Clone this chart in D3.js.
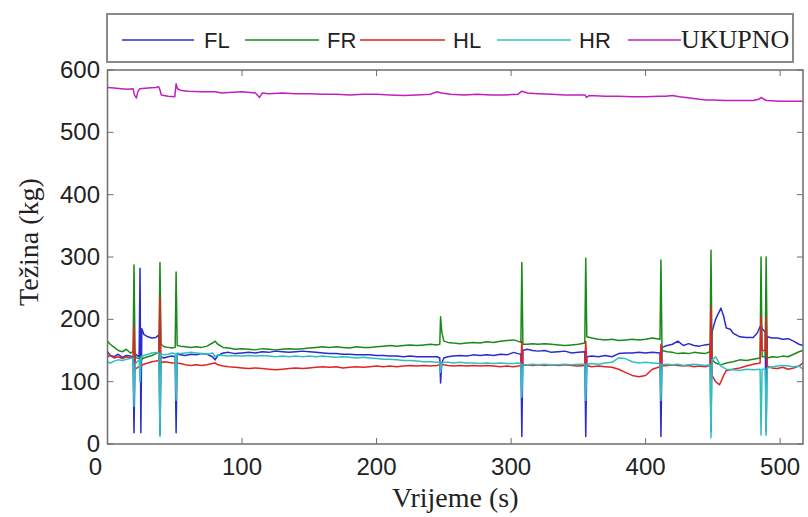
<!DOCTYPE html>
<html>
<head>
<meta charset="utf-8">
<script src="https://cdn.jsdelivr.net/npm/d3@7"></script>
<style>
  body { margin: 0; background: #fff; }
  text { fill: #222; }
</style>
</head>
<body>
<svg id="chart" width="808" height="517"></svg>
<script>
// data: [time (s), weight (kg)]
var seriesNames = ["FL", "FR", "HL", "HR", "UKUPNO"];
var xTicks = [0, 100, 200, 300, 400, 500];
var yTicks = [0, 100, 200, 300, 400, 500, 600];

var fl = [[0,148],[2,142],[5,140],[8,144],[11,139],[14,142],[17,141],[19,140],[19.7,18],[20.5,145],[22,142],[23.5,140],
  [24.2,282],[24.8,18],[25.5,185],[27,176],[30,172],[33,170],[36,171],[38.2,175],[39,15],[39.8,140],[42,138],[45,140],
  [48,141],[50.3,140],[51,18],[51.8,145],[54,143],[58,142],[62,144],[66,143],[70,145],[74,144],[78,140],[80,135],[82,142],
  [86,146],[90,147],[95,145],[100,146],[105,147],[110,146],[115,148],[120,147],[125,149],[130,148],[135,147],[140,148],
  [145,149],[150,148],[155,147],[160,146],[165,145],[170,145],[175,144],[180,144],[185,143],[190,143],[195,143],[200,142],
  [205,142],[210,141],[215,141],[220,140],[225,141],[230,140],[235,140],[240,140],[245,140],[247,138],[247.6,98],[248.5,130],
  [250,138],[253,140],[257,141],[262,142],[267,141],[272,143],[277,142],[282,143],[287,142],[292,144],[297,143],[302,147],
  [305,145],[307.3,144],[308,12],[308.8,150],[312,152],[316,150],[320,149],[325,150],[330,147],[335,148],[340,149],[345,146],
  [350,147],[354.8,148],[355.5,12],[356.3,140],[360,141],[365,140],[370,142],[375,140],[380,145],[385,146],[390,146],
  [395,147],[400,146],[405,147],[410.7,146],[411.4,12],[412.2,155],[416,158],[420,160],[424,165],[428,158],[432,161],
  [436,158],[440,157],[444,159],[447.9,160],[448.6,20],[449.4,180],[452,200],[456,218],[458,205],[460,186],[463,184],
  [465,178],[470,172],[475,171],[480,171],[483,178],[485.1,188],[485.8,190],[486.6,185],[488.9,180],[489.6,20],[490.4,172],
  [494,170],[498,170],[502,168],[506,169],[510,165],[514,160],[517,158]];

var fr = [[0,165],[2,160],[5,155],[8,150],[11,148],[14,152],[17,146],[19,148],[19.7,287],[20.5,140],[22,138],[23.5,137],
  [24.2,138],[25,136],[27,138],[30,140],[33,142],[36,145],[38.2,147],[39,291],[39.8,160],[42,156],[45,155],[48,154],
  [50.3,155],[51,276],[51.8,158],[54,157],[58,156],[62,155],[66,156],[70,155],[74,157],[78,162],[80,165],[82,160],[86,155],
  [90,154],[95,152],[100,153],[105,152],[110,151],[115,153],[120,152],[125,151],[130,152],[135,153],[140,152],[145,153],
  [150,154],[155,155],[160,156],[165,155],[170,156],[175,155],[180,154],[185,156],[190,155],[195,155],[200,156],[205,157],
  [210,158],[215,157],[220,158],[225,159],[230,158],[235,159],[240,160],[245,159],[247,160],[247.6,204],[248.5,180],
  [250,165],[253,163],[257,162],[262,161],[267,162],[272,163],[277,162],[282,164],[287,163],[292,165],[297,166],[302,167],
  [305,165],[307.3,163],[308,291],[308.8,160],[312,160],[316,161],[320,160],[325,161],[330,160],[335,159],[340,158],
  [345,159],[350,160],[354.8,162],[355.5,298],[356.3,172],[360,170],[365,168],[370,167],[375,168],[380,166],[385,167],
  [390,168],[395,167],[400,168],[405,170],[410.7,168],[411.4,295],[412.2,150],[416,148],[420,147],[424,145],[428,146],
  [432,145],[436,147],[440,146],[444,145],[447.9,148],[448.6,311],[449.4,135],[452,130],[456,127],[460,130],[465,132],
  [470,135],[475,134],[480,136],[485.1,138],[485.8,300],[486.6,140],[488.9,140],[489.6,300],[490.4,138],[494,140],
  [498,139],[502,141],[506,140],[510,144],[514,148],[517,150]];

var hl = [[0,140],[2,142],[5,138],[8,140],[11,137],[14,140],[17,138],[19,139],[19.7,190],[20.5,120],[22,122],[23.5,124],
  [24.2,126],[25,125],[27,128],[30,130],[33,132],[36,133],[38.2,134],[39,236],[39.8,130],[42,132],[45,131],[48,130],
  [50.3,130],[51,128],[51.8,130],[54,129],[58,127],[62,126],[66,127],[70,126],[74,127],[78,129],[80,130],[82,127],[86,125],
  [90,124],[95,123],[100,122],[105,121],[110,122],[115,121],[120,120],[125,119],[130,120],[135,121],[140,122],[145,121],
  [150,122],[155,123],[160,124],[165,123],[170,124],[175,122],[180,123],[185,124],[190,123],[195,124],[200,125],[205,124],
  [210,125],[215,124],[220,125],[225,126],[230,125],[235,126],[240,125],[245,126],[247,127],[247.6,122],[248.5,128],
  [250,127],[253,126],[257,125],[262,126],[267,125],[272,126],[277,125],[282,126],[287,125],[292,124],[297,125],[302,124],
  [305,125],[307.3,126],[308,165],[308.8,126],[312,127],[316,126],[320,127],[325,126],[330,127],[335,126],[340,127],
  [345,126],[350,125],[354.8,126],[355.5,165],[356.3,126],[360,124],[365,125],[370,124],[375,123],[380,120],[385,115],
  [390,110],[395,108],[400,110],[405,120],[410.7,124],[411.4,160],[412.2,125],[416,126],[420,127],[424,126],[428,125],
  [432,126],[436,124],[440,125],[444,124],[447.9,126],[448.6,220],[449.4,110],[452,100],[455,95],[458,110],[460,118],
  [465,120],[470,122],[475,125],[480,128],[485.1,130],[485.8,204],[486.6,150],[488.9,150],[489.6,204],[490.4,125],
  [494,122],[498,121],[502,123],[506,120],[510,122],[514,125],[517,130]];

var hr = [[0,132],[2,130],[5,133],[8,135],[11,134],[14,136],[17,137],[19,138],[19.7,60],[20.5,128],[22,132],[23.5,135],
  [24.2,100],[25,140],[27,142],[30,144],[33,146],[36,147],[38.2,146],[39,12],[39.8,145],[42,143],[45,144],[48,146],
  [50.3,145],[51,70],[51.8,146],[54,145],[58,146],[62,147],[66,146],[70,145],[74,144],[78,146],[80,140],[82,143],[86,142],
  [90,141],[95,142],[100,141],[105,142],[110,141],[115,142],[120,141],[125,140],[130,141],[135,140],[140,141],[145,140],
  [150,141],[155,140],[160,141],[165,140],[170,139],[175,140],[180,139],[185,138],[190,139],[195,138],[200,137],[205,136],
  [210,136],[215,135],[220,134],[225,134],[230,133],[235,132],[240,132],[245,131],[247,131],[247.6,115],[248.5,130],
  [250,131],[253,131],[257,130],[262,131],[267,130],[272,130],[277,129],[282,130],[287,129],[292,130],[297,129],[302,129],
  [305,130],[307.3,129],[308,75],[308.8,127],[312,127],[316,128],[320,127],[325,128],[330,127],[335,127],[340,128],
  [345,127],[350,128],[354.8,128],[355.5,70],[356.3,128],[360,129],[365,128],[370,130],[375,131],[380,138],[385,137],
  [390,132],[395,130],[400,131],[405,130],[410.7,129],[411.4,70],[412.2,127],[416,128],[420,127],[424,128],[428,126],
  [432,127],[436,128],[440,127],[444,126],[447.9,127],[448.6,10],[449.4,135],[452,140],[456,125],[460,120],[465,119],
  [470,118],[475,120],[480,119],[485.1,120],[485.8,14],[486.6,120],[488.9,120],[489.6,14],[490.4,122],[494,124],
  [498,125],[502,126],[506,125],[510,124],[514,125],[517,120]];

var ukupno = [[0,572],[5,571],[10,570],[15,569],[19,570],[20,560],[21.5,555],[22.5,565],[24,570],[30,571],[36,572],
  [38,573],[39,568],[40,560],[45,558],[50,557],[51,578],[52,570],[55,567],[60,566],[70,565],[80,565],[85,563],[90,564],
  [100,565],[110,563],[113,556],[115,563],[120,562],[130,563],[140,562],[150,562],[160,561],[170,561],[180,560],[190,561],
  [200,561],[210,560],[220,559],[230,560],[240,561],[245,565],[248,563],[255,561],[265,560],[275,561],[285,560],[295,560],
  [305,561],[308,566],[312,563],[320,562],[330,561],[340,560],[350,560],[355,560],[356,556],[358,559],[370,558],[380,558],
  [390,557],[400,557],[410,558],[415,558],[420,559],[425,557],[430,556],[440,553],[445,552],[450,552],[460,551],[470,551],
  [480,551],[484,553],[486,556],[488,553],[490,551],[500,550],[510,550],[517,550]];

var seriesData = [fl, fr, hl, hr, ukupno];
var seriesColors = ["#2b2bd0", "#1a8a1a", "#e02424", "#30c0c0", "#c020c0"];

var svg = d3.select("#chart");
var plotLeft = 107.5, plotRight = 803, plotTop = 70, plotBottom = 444;

var x = d3.scaleLinear().domain([0, 517]).range([plotLeft, plotRight]);
var y = d3.scaleLinear().domain([0, 600]).range([plotBottom, plotTop]);

// lines
var line = d3.line()
  .x(function(d){ return x(d[0]); })
  .y(function(d){ return y(d[1]); });

svg.append("g")
  .selectAll("path")
  .data(seriesData)
  .enter()
  .append("path")
  .attr("d", line)
  .attr("fill", "none")
  .attr("stroke", function(d, i){ return seriesColors[i]; })
  .attr("stroke-width", 1.5)
  .attr("stroke-linejoin", "round");

// matlab style box with inward ticks
var frame = svg.append("g").attr("stroke", "#6e6e6e").attr("fill", "none");
frame.append("rect")
  .attr("x", plotLeft).attr("y", plotTop)
  .attr("width", plotRight - plotLeft).attr("height", plotBottom - plotTop)
  .attr("stroke-width", 1.5);

var tk = 6;
xTicks.forEach(function(t){
  frame.append("line").attr("x1", x(t)).attr("x2", x(t)).attr("y1", plotBottom).attr("y2", plotBottom - tk);
  frame.append("line").attr("x1", x(t)).attr("x2", x(t)).attr("y1", plotTop).attr("y2", plotTop + tk);
});
yTicks.forEach(function(t){
  frame.append("line").attr("x1", plotLeft).attr("x2", plotLeft + tk).attr("y1", y(t)).attr("y2", y(t));
  frame.append("line").attr("x1", plotRight).attr("x2", plotRight - tk).attr("y1", y(t)).attr("y2", y(t));
});

// tick labels
svg.append("g")
  .selectAll("text")
  .data(xTicks)
  .enter()
  .append("text")
  .attr("x", function(d){ return x(d) + (d === 0 ? -12 : 0); })
  .attr("y", 475)
  .attr("text-anchor", "middle")
  .style("font-family", "'Liberation Sans', Arial, sans-serif")
  .style("font-size", "24px")
  .text(function(d){ return d; });

svg.append("g")
  .selectAll("text")
  .data(yTicks)
  .enter()
  .append("text")
  .attr("x", 100)
  .attr("y", function(d){ return y(d) + 8; })
  .attr("text-anchor", "end")
  .style("font-family", "'Liberation Sans', Arial, sans-serif")
  .style("font-size", "24px")
  .text(function(d){ return d; });

// axis titles
svg.append("text")
  .attr("x", (plotLeft + plotRight) / 2)
  .attr("y", 507)
  .attr("text-anchor", "middle")
  .style("font-family", "'Liberation Serif', 'Times New Roman', serif")
  .style("font-size", "28px")
  .text("Vrijeme (s)");

svg.append("text")
  .attr("transform", "translate(38,242) rotate(-90)")
  .attr("text-anchor", "middle")
  .style("font-family", "'Liberation Serif', 'Times New Roman', serif")
  .style("font-size", "28px")
  .text("Težina (kg)");

// legend
var legend = svg.append("g");
legend.append("rect")
  .attr("x", 107).attr("y", 14)
  .attr("width", 686).attr("height", 48)
  .attr("fill", "#fff")
  .attr("stroke", "#8a8a8a")
  .attr("stroke-width", 2);

var legendLine = [[122, 194], [245, 319], [360, 445], [497, 571], [628, 681]];
var legendText = [204, 327, 453, 579, 681];

seriesNames.forEach(function(name, i){
  legend.append("line")
    .attr("x1", legendLine[i][0]).attr("x2", legendLine[i][1])
    .attr("y1", 40).attr("y2", 40)
    .attr("stroke", seriesColors[i])
    .attr("stroke-width", 1.5);
  legend.append("text")
    .attr("x", legendText[i])
    .attr("y", 48)
    .style("font-family", name === "UKUPNO" ? "'Liberation Serif', 'Times New Roman', serif" : "'Liberation Sans', Arial, sans-serif")
    .style("font-size", name === "UKUPNO" ? "26px" : "22px")
    .text(name);
});
</script>
</body>
</html>
